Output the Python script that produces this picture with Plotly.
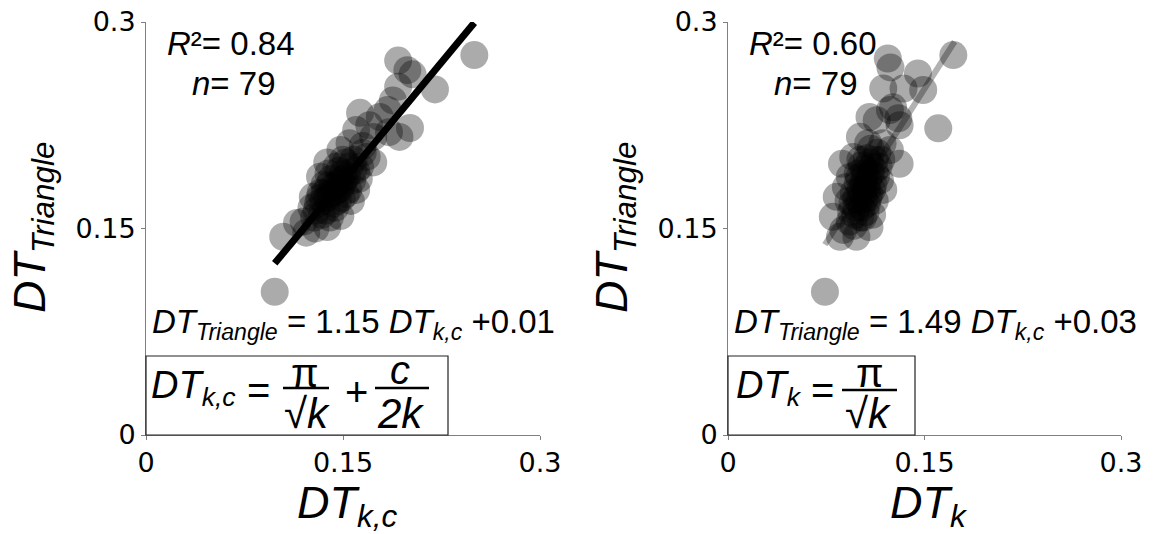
import plotly.graph_objects as go

# ---------------- data ----------------
left_x = [0.098, 0.250, 0.220, 0.192, 0.199, 0.203, 0.192, 0.188, 0.184, 0.163,
          0.178, 0.201, 0.193, 0.160, 0.173, 0.168, 0.173, 0.138, 0.1325, 0.148,
          0.158, 0.127, 0.148, 0.138, 0.122, 0.1045, 0.115, 0.130, 0.160, 0.155,
          0.165, 0.170, 0.185,
          0.135, 0.140, 0.142, 0.145, 0.148, 0.150, 0.146, 0.138, 0.143, 0.150,
          0.153, 0.155, 0.152, 0.147, 0.141, 0.136, 0.133, 0.131, 0.137, 0.144,
          0.149, 0.154, 0.157, 0.160, 0.158, 0.150, 0.145, 0.139, 0.134, 0.128,
          0.126, 0.140, 0.146, 0.152, 0.156, 0.162, 0.163, 0.165, 0.143, 0.139,
          0.148, 0.151, 0.136, 0.132, 0.129, 0.120]
left_y = [0.104, 0.276, 0.251, 0.272, 0.265, 0.262, 0.253, 0.243, 0.236, 0.234,
          0.231, 0.223, 0.2165, 0.2215, 0.2165, 0.202, 0.198, 0.198, 0.1876, 0.207,
          0.1925, 0.173, 0.159, 0.151, 0.147, 0.144, 0.154, 0.163, 0.178, 0.212,
          0.210, 0.225, 0.220,
          0.170, 0.175, 0.180, 0.182, 0.185, 0.183, 0.178, 0.172, 0.168, 0.190,
          0.188, 0.195, 0.198, 0.192, 0.186, 0.182, 0.176, 0.168, 0.163, 0.165,
          0.172, 0.178, 0.185, 0.192, 0.200, 0.200, 0.195, 0.190, 0.160, 0.158,
          0.165, 0.158, 0.170, 0.175, 0.170, 0.186, 0.195, 0.205, 0.176, 0.181,
          0.179, 0.186, 0.176, 0.172, 0.150, 0.155]

right_x = [0.074, 0.172, 0.122, 0.124, 0.145, 0.1185, 0.134, 0.149, 0.1605, 0.126,
           0.130, 0.131, 0.108, 0.1007, 0.087, 0.131, 0.093, 0.083, 0.1185, 0.080,
           0.0855, 0.098, 0.108, 0.0956, 0.1236, 0.1135, 0.1236, 0.103, 0.088,
           0.100, 0.103, 0.105, 0.107, 0.109, 0.104, 0.101, 0.098, 0.102, 0.106,
           0.110, 0.112, 0.108, 0.104, 0.099, 0.096, 0.095, 0.097, 0.101, 0.105,
           0.108, 0.111, 0.113, 0.115, 0.114, 0.109, 0.106, 0.102, 0.094, 0.092,
           0.099, 0.103, 0.107, 0.110, 0.112, 0.116, 0.117, 0.105, 0.100, 0.106,
           0.104, 0.098, 0.093, 0.096, 0.110, 0.101, 0.118, 0.107, 0.090, 0.112]
right_y = [0.104, 0.276, 0.2735, 0.267, 0.2626, 0.2517, 0.2517, 0.2506, 0.2228, 0.238,
           0.230, 0.225, 0.231, 0.2166, 0.197, 0.197, 0.1875, 0.173, 0.178, 0.1585,
           0.144, 0.144, 0.151, 0.202, 0.207, 0.2287, 0.236, 0.158, 0.149,
           0.170, 0.175, 0.180, 0.185, 0.190, 0.186, 0.178, 0.172, 0.165, 0.168,
           0.195, 0.200, 0.198, 0.193, 0.183, 0.176, 0.168, 0.160, 0.158, 0.162,
           0.175, 0.182, 0.188, 0.195, 0.205, 0.208, 0.201, 0.196, 0.162, 0.170,
           0.190, 0.182, 0.172, 0.178, 0.170, 0.185, 0.200, 0.190, 0.187, 0.178,
           0.171, 0.165, 0.155, 0.152, 0.160, 0.200, 0.212, 0.212, 0.180, 0.192]

left_fit = dict(slope=1.15, intercept=0.012, x_range=[0.098, 0.250])
right_fit = dict(slope=1.49, intercept=0.028, x_range=[0.074, 0.173])

tick_vals = [0, 0.15, 0.3]
tick_text = ["0", "0.15", "0.3"]

left_stats = dict(r2="0.84", n="79", eq_slope="1.15", eq_int="+0.01")
right_stats = dict(r2="0.60", n="79", eq_slope="1.49", eq_int="+0.03")

# ---------------- layout helpers ----------------
W, H = 1153, 534
def px(x):
    return x / W
def py(y):
    return 1 - y / H

TXT = "Liberation Sans, Arial, sans-serif"
TICKF = "DejaVu Sans, Verdana, sans-serif"

fig = go.Figure()

marker = dict(size=28, color="black", opacity=0.33, line=dict(width=0))

fig.add_trace(go.Scatter(x=left_x, y=left_y, mode="markers", marker=marker,
                         xaxis="x", yaxis="y", showlegend=False, hoverinfo="skip"))
lx = left_fit["x_range"]
fig.add_trace(go.Scatter(x=lx, y=[left_fit["slope"] * v + left_fit["intercept"] for v in lx],
                         mode="lines", line=dict(color="black", width=7),
                         xaxis="x", yaxis="y", showlegend=False, hoverinfo="skip"))

fig.add_trace(go.Scatter(x=right_x, y=right_y, mode="markers", marker=marker,
                         xaxis="x2", yaxis="y2", showlegend=False, hoverinfo="skip"))
rx = right_fit["x_range"]
fig.add_trace(go.Scatter(x=rx, y=[right_fit["slope"] * v + right_fit["intercept"] for v in rx],
                         mode="lines", line=dict(color="rgba(0,0,0,0.3)", width=6),
                         xaxis="x2", yaxis="y2", showlegend=False, hoverinfo="skip"))

axis_common = dict(range=[0, 0.3], tickvals=tick_vals, ticktext=tick_text,
                   showgrid=False, zeroline=False, showline=True, automargin=False,
                   linecolor="#808080", linewidth=1, ticks="outside", ticklen=4,
                   tickcolor="#808080", tickfont=dict(family=TICKF, size=27, color="black"),
                   fixedrange=True)

ydom = [py(435), py(22)]
fig.update_layout(
    width=W, height=H, margin=dict(l=0, r=0, t=0, b=0, autoexpand=False),
    paper_bgcolor="white", plot_bgcolor="white",
    xaxis=dict(domain=[px(146), px(540)], anchor="y", **axis_common),
    yaxis=dict(domain=ydom, anchor="x", **axis_common),
    xaxis2=dict(domain=[px(728), px(1121)], anchor="y2", **axis_common),
    yaxis2=dict(domain=ydom, anchor="x2", **axis_common),
)

ann = []
def add(text, x, y, size, xanchor="center", yanchor="middle", angle=0):
    ann.append(dict(text=text, x=px(x), y=py(y), xref="paper", yref="paper",
                    xanchor=xanchor, yanchor=yanchor, showarrow=False, textangle=angle,
                    font=dict(family=TXT, size=size, color="black")))

for off, sub, st in [(0, "k,c", left_stats), (582, "k", right_stats)]:
    # axis titles
    add("<i>DT</i><sub><i>Triangle</i></sub>", 33 + off, 228, 45, angle=-90)
    add("<i>DT</i><sub><i>%s</i></sub>" % sub, 347 + off, 505, 45)
    # stats
    add("<i>R</i>²= %s" % st["r2"], 165 + off, 44, 33, xanchor="left")
    add("<i>n</i>= %s" % st["n"], 190 + off, 84, 33, xanchor="left")
    add("<i>DT</i><sub><i>Triangle</i></sub> = %s <i>DT</i><sub><i>k,c</i></sub> %s"
        % (st["eq_slope"], st["eq_int"]), 150 + off, 324, 33, xanchor="left")

# formula boxes
add("<i>DT</i><sub><i>k,c</i></sub>", 149, 388, 38, xanchor="left")
add("=", 258, 390, 40)
add("π", 305, 373, 40)
add("√<i>k</i>", 307, 413, 42)
add("+", 356, 392, 40)
add("<i>c</i>", 400, 370, 40)
add("<i>2k</i>", 400, 413, 42)

add("<i>DT</i><sub><i>k</i></sub>", 734, 388, 38, xanchor="left")
add("=", 822, 390, 40)
add("π", 870, 373, 40)
add("√<i>k</i>", 868, 413, 42)

fig.update_layout(annotations=ann)

shapes = [
    dict(type="rect", xref="paper", yref="paper", x0=px(146), x1=px(448), y0=py(435), y1=py(356),
         line=dict(color="#222", width=1.2)),
    dict(type="rect", xref="paper", yref="paper", x0=px(728), x1=px(915), y0=py(435), y1=py(356),
         line=dict(color="#222", width=1.2)),
    dict(type="line", xref="paper", yref="paper", x0=px(283), x1=px(329), y0=py(388), y1=py(388),
         line=dict(color="black", width=2.5)),
    dict(type="line", xref="paper", yref="paper", x0=px(375), x1=px(429), y0=py(388), y1=py(388),
         line=dict(color="black", width=2.5)),
    dict(type="line", xref="paper", yref="paper", x0=px(842), x1=px(897), y0=py(390), y1=py(390),
         line=dict(color="black", width=2.5)),
]
fig.update_layout(shapes=shapes)

fig.write_html("out.html")
